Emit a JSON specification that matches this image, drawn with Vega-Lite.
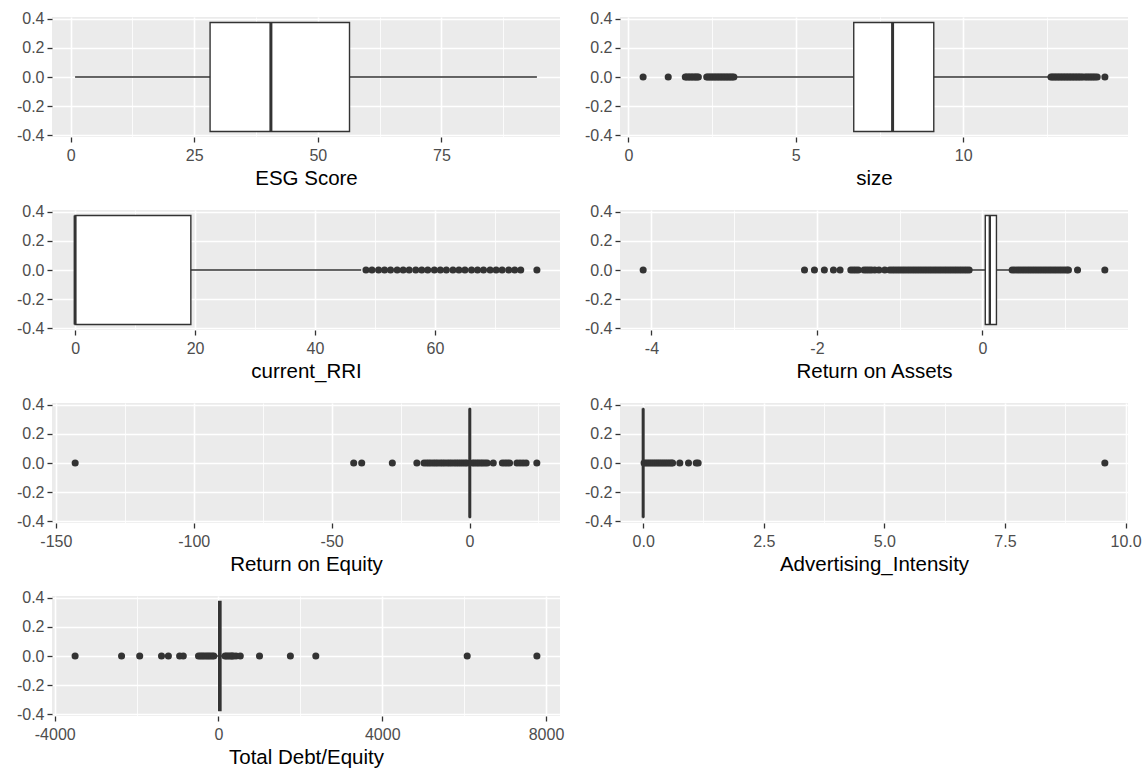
{
  "$schema": "https://vega.github.io/schema/vega-lite/v6.json",
  "padding": {"left": 16, "top": 10, "right": 5, "bottom": 5},
  "background": "#FFFFFF",
  "columns": 2,
  "bounds": "flush",
  "spacing": {"row": 73, "column": 60},
  "datasets": {
    "box": [
      {"variable": "ESG Score", "lower": 0.9, "q1": 28.2, "median": 40.5, "q3": 56.4, "upper": 94.3},
      {"variable": "size", "lower": 3.17, "q1": 6.73, "median": 7.89, "q3": 9.12, "upper": 12.58},
      {"variable": "current_RRI", "lower": 0, "q1": 0, "median": 0, "q3": 19.3, "upper": 47.7},
      {"variable": "Return on Assets", "lower": -0.14, "q1": 0.035, "median": 0.09, "q3": 0.17, "upper": 0.35},
      {"variable": "Return on Equity", "lower": -0.5, "q1": 0, "median": 0.1, "q3": 0.25, "upper": 0.7},
      {"variable": "Advertising_Intensity", "lower": 0, "q1": 0, "median": 0, "q3": 0.005, "upper": 0.012},
      {"variable": "Total Debt/Equity", "lower": -80, "q1": 5, "median": 25, "q3": 60, "upper": 140}
    ],
    "out": [
      {"variable": "size", "value": 0.44}, {"variable": "size", "value": 1.19},
      {"variable": "size", "value": 1.70}, {"variable": "size", "value": 1.74}, {"variable": "size", "value": 1.79}, {"variable": "size", "value": 1.83},
      {"variable": "size", "value": 1.88}, {"variable": "size", "value": 1.92}, {"variable": "size", "value": 1.97}, {"variable": "size", "value": 2.01},
      {"variable": "size", "value": 2.05}, {"variable": "size", "value": 2.09},
      {"variable": "size", "value": 2.34}, {"variable": "size", "value": 2.38}, {"variable": "size", "value": 2.43}, {"variable": "size", "value": 2.47},
      {"variable": "size", "value": 2.52}, {"variable": "size", "value": 2.56}, {"variable": "size", "value": 2.61}, {"variable": "size", "value": 2.65},
      {"variable": "size", "value": 2.70}, {"variable": "size", "value": 2.74}, {"variable": "size", "value": 2.79}, {"variable": "size", "value": 2.83},
      {"variable": "size", "value": 2.88}, {"variable": "size", "value": 2.92}, {"variable": "size", "value": 2.97}, {"variable": "size", "value": 3.01},
      {"variable": "size", "value": 3.06}, {"variable": "size", "value": 3.10}, {"variable": "size", "value": 3.15},
      {"variable": "size", "value": 12.62}, {"variable": "size", "value": 12.66}, {"variable": "size", "value": 12.71}, {"variable": "size", "value": 12.75},
      {"variable": "size", "value": 12.80}, {"variable": "size", "value": 12.84}, {"variable": "size", "value": 12.89}, {"variable": "size", "value": 12.93},
      {"variable": "size", "value": 12.98}, {"variable": "size", "value": 13.02}, {"variable": "size", "value": 13.07}, {"variable": "size", "value": 13.11},
      {"variable": "size", "value": 13.16}, {"variable": "size", "value": 13.20}, {"variable": "size", "value": 13.25}, {"variable": "size", "value": 13.29},
      {"variable": "size", "value": 13.34}, {"variable": "size", "value": 13.38}, {"variable": "size", "value": 13.43}, {"variable": "size", "value": 13.47},
      {"variable": "size", "value": 13.52}, {"variable": "size", "value": 13.57}, {"variable": "size", "value": 13.64}, {"variable": "size", "value": 13.69},
      {"variable": "size", "value": 13.74}, {"variable": "size", "value": 13.79}, {"variable": "size", "value": 13.84}, {"variable": "size", "value": 13.89},
      {"variable": "size", "value": 13.94}, {"variable": "size", "value": 14.00}, {"variable": "size", "value": 14.23},

      {"variable": "current_RRI", "value": 48.5}, {"variable": "current_RRI", "value": 49.5}, {"variable": "current_RRI", "value": 50.6},
      {"variable": "current_RRI", "value": 51.6}, {"variable": "current_RRI", "value": 52.6}, {"variable": "current_RRI", "value": 53.7},
      {"variable": "current_RRI", "value": 54.7}, {"variable": "current_RRI", "value": 55.7}, {"variable": "current_RRI", "value": 56.8},
      {"variable": "current_RRI", "value": 57.8}, {"variable": "current_RRI", "value": 58.8}, {"variable": "current_RRI", "value": 59.9},
      {"variable": "current_RRI", "value": 60.9}, {"variable": "current_RRI", "value": 61.9}, {"variable": "current_RRI", "value": 63.0},
      {"variable": "current_RRI", "value": 64.0}, {"variable": "current_RRI", "value": 65.0}, {"variable": "current_RRI", "value": 66.1},
      {"variable": "current_RRI", "value": 67.1}, {"variable": "current_RRI", "value": 68.1}, {"variable": "current_RRI", "value": 69.2},
      {"variable": "current_RRI", "value": 70.2}, {"variable": "current_RRI", "value": 71.2}, {"variable": "current_RRI", "value": 72.3},
      {"variable": "current_RRI", "value": 73.3}, {"variable": "current_RRI", "value": 74.3}, {"variable": "current_RRI", "value": 77.0},

      {"variable": "Return on Assets", "value": -4.10}, {"variable": "Return on Assets", "value": -2.15}, {"variable": "Return on Assets", "value": -2.03},
      {"variable": "Return on Assets", "value": -1.91}, {"variable": "Return on Assets", "value": -1.80}, {"variable": "Return on Assets", "value": -1.72},
      {"variable": "Return on Assets", "value": -1.59}, {"variable": "Return on Assets", "value": -1.56}, {"variable": "Return on Assets", "value": -1.53},
      {"variable": "Return on Assets", "value": -1.50}, {"variable": "Return on Assets", "value": -1.43}, {"variable": "Return on Assets", "value": -1.40},
      {"variable": "Return on Assets", "value": -1.37}, {"variable": "Return on Assets", "value": -1.34}, {"variable": "Return on Assets", "value": -1.30},
      {"variable": "Return on Assets", "value": -1.25}, {"variable": "Return on Assets", "value": -1.18}, {"variable": "Return on Assets", "value": -1.12},
      {"variable": "Return on Assets", "value": -1.09}, {"variable": "Return on Assets", "value": -1.06}, {"variable": "Return on Assets", "value": -1.03},
      {"variable": "Return on Assets", "value": -1.00}, {"variable": "Return on Assets", "value": -0.97}, {"variable": "Return on Assets", "value": -0.94},
      {"variable": "Return on Assets", "value": -0.91}, {"variable": "Return on Assets", "value": -0.88}, {"variable": "Return on Assets", "value": -0.85},
      {"variable": "Return on Assets", "value": -0.82}, {"variable": "Return on Assets", "value": -0.79}, {"variable": "Return on Assets", "value": -0.76},
      {"variable": "Return on Assets", "value": -0.73}, {"variable": "Return on Assets", "value": -0.70}, {"variable": "Return on Assets", "value": -0.67},
      {"variable": "Return on Assets", "value": -0.64}, {"variable": "Return on Assets", "value": -0.61}, {"variable": "Return on Assets", "value": -0.58},
      {"variable": "Return on Assets", "value": -0.55}, {"variable": "Return on Assets", "value": -0.52}, {"variable": "Return on Assets", "value": -0.49},
      {"variable": "Return on Assets", "value": -0.46}, {"variable": "Return on Assets", "value": -0.43}, {"variable": "Return on Assets", "value": -0.40},
      {"variable": "Return on Assets", "value": -0.37}, {"variable": "Return on Assets", "value": -0.34}, {"variable": "Return on Assets", "value": -0.31},
      {"variable": "Return on Assets", "value": -0.28}, {"variable": "Return on Assets", "value": -0.25}, {"variable": "Return on Assets", "value": -0.22},
      {"variable": "Return on Assets", "value": -0.19}, {"variable": "Return on Assets", "value": -0.16},
      {"variable": "Return on Assets", "value": 0.36}, {"variable": "Return on Assets", "value": 0.39}, {"variable": "Return on Assets", "value": 0.42},
      {"variable": "Return on Assets", "value": 0.45}, {"variable": "Return on Assets", "value": 0.48}, {"variable": "Return on Assets", "value": 0.51},
      {"variable": "Return on Assets", "value": 0.54}, {"variable": "Return on Assets", "value": 0.57}, {"variable": "Return on Assets", "value": 0.60},
      {"variable": "Return on Assets", "value": 0.63}, {"variable": "Return on Assets", "value": 0.66}, {"variable": "Return on Assets", "value": 0.69},
      {"variable": "Return on Assets", "value": 0.72}, {"variable": "Return on Assets", "value": 0.75}, {"variable": "Return on Assets", "value": 0.78},
      {"variable": "Return on Assets", "value": 0.81}, {"variable": "Return on Assets", "value": 0.84}, {"variable": "Return on Assets", "value": 0.87},
      {"variable": "Return on Assets", "value": 0.90}, {"variable": "Return on Assets", "value": 0.93}, {"variable": "Return on Assets", "value": 0.96},
      {"variable": "Return on Assets", "value": 0.99}, {"variable": "Return on Assets", "value": 1.02}, {"variable": "Return on Assets", "value": 1.04},
      {"variable": "Return on Assets", "value": 1.15}, {"variable": "Return on Assets", "value": 1.48},

      {"variable": "Return on Equity", "value": -143.0}, {"variable": "Return on Equity", "value": -42.0}, {"variable": "Return on Equity", "value": -39.1},
      {"variable": "Return on Equity", "value": -28.0}, {"variable": "Return on Equity", "value": -19.1}, {"variable": "Return on Equity", "value": -16.5},
      {"variable": "Return on Equity", "value": -15.6}, {"variable": "Return on Equity", "value": -14.8}, {"variable": "Return on Equity", "value": -14.0},
      {"variable": "Return on Equity", "value": -13.1}, {"variable": "Return on Equity", "value": -12.3}, {"variable": "Return on Equity", "value": -11.5},
      {"variable": "Return on Equity", "value": -10.6}, {"variable": "Return on Equity", "value": -9.8}, {"variable": "Return on Equity", "value": -9.0},
      {"variable": "Return on Equity", "value": -8.1}, {"variable": "Return on Equity", "value": -7.3}, {"variable": "Return on Equity", "value": -6.5},
      {"variable": "Return on Equity", "value": -5.6}, {"variable": "Return on Equity", "value": -4.8}, {"variable": "Return on Equity", "value": -4.0},
      {"variable": "Return on Equity", "value": -3.2}, {"variable": "Return on Equity", "value": -2.4}, {"variable": "Return on Equity", "value": -1.6},
      {"variable": "Return on Equity", "value": -0.9}, {"variable": "Return on Equity", "value": 1.1}, {"variable": "Return on Equity", "value": 1.8},
      {"variable": "Return on Equity", "value": 2.6}, {"variable": "Return on Equity", "value": 3.3}, {"variable": "Return on Equity", "value": 4.1},
      {"variable": "Return on Equity", "value": 4.8}, {"variable": "Return on Equity", "value": 5.6}, {"variable": "Return on Equity", "value": 6.4},
      {"variable": "Return on Equity", "value": 8.6}, {"variable": "Return on Equity", "value": 11.9}, {"variable": "Return on Equity", "value": 12.8},
      {"variable": "Return on Equity", "value": 13.6}, {"variable": "Return on Equity", "value": 14.5}, {"variable": "Return on Equity", "value": 17.2},
      {"variable": "Return on Equity", "value": 18.3}, {"variable": "Return on Equity", "value": 19.4}, {"variable": "Return on Equity", "value": 20.5},
      {"variable": "Return on Equity", "value": 24.4},

      {"variable": "Advertising_Intensity", "value": 0.02}, {"variable": "Advertising_Intensity", "value": 0.06}, {"variable": "Advertising_Intensity", "value": 0.10},
      {"variable": "Advertising_Intensity", "value": 0.14}, {"variable": "Advertising_Intensity", "value": 0.18}, {"variable": "Advertising_Intensity", "value": 0.22},
      {"variable": "Advertising_Intensity", "value": 0.26}, {"variable": "Advertising_Intensity", "value": 0.30}, {"variable": "Advertising_Intensity", "value": 0.34},
      {"variable": "Advertising_Intensity", "value": 0.38}, {"variable": "Advertising_Intensity", "value": 0.42}, {"variable": "Advertising_Intensity", "value": 0.46},
      {"variable": "Advertising_Intensity", "value": 0.50}, {"variable": "Advertising_Intensity", "value": 0.54}, {"variable": "Advertising_Intensity", "value": 0.58},
      {"variable": "Advertising_Intensity", "value": 0.61}, {"variable": "Advertising_Intensity", "value": 0.76}, {"variable": "Advertising_Intensity", "value": 0.94},
      {"variable": "Advertising_Intensity", "value": 1.10}, {"variable": "Advertising_Intensity", "value": 1.14}, {"variable": "Advertising_Intensity", "value": 9.57},

      {"variable": "Total Debt/Equity", "value": -3503}, {"variable": "Total Debt/Equity", "value": -2368}, {"variable": "Total Debt/Equity", "value": -1925},
      {"variable": "Total Debt/Equity", "value": -1392}, {"variable": "Total Debt/Equity", "value": -1224}, {"variable": "Total Debt/Equity", "value": -949},
      {"variable": "Total Debt/Equity", "value": -860}, {"variable": "Total Debt/Equity", "value": -488}, {"variable": "Total Debt/Equity", "value": -440},
      {"variable": "Total Debt/Equity", "value": -395}, {"variable": "Total Debt/Equity", "value": -350}, {"variable": "Total Debt/Equity", "value": -300},
      {"variable": "Total Debt/Equity", "value": -255}, {"variable": "Total Debt/Equity", "value": -210}, {"variable": "Total Debt/Equity", "value": -160},
      {"variable": "Total Debt/Equity", "value": -115}, {"variable": "Total Debt/Equity", "value": 160}, {"variable": "Total Debt/Equity", "value": 200},
      {"variable": "Total Debt/Equity", "value": 245}, {"variable": "Total Debt/Equity", "value": 290}, {"variable": "Total Debt/Equity", "value": 330},
      {"variable": "Total Debt/Equity", "value": 355}, {"variable": "Total Debt/Equity", "value": 426}, {"variable": "Total Debt/Equity", "value": 532},
      {"variable": "Total Debt/Equity", "value": 1002}, {"variable": "Total Debt/Equity", "value": 1756}, {"variable": "Total Debt/Equity", "value": 2377},
      {"variable": "Total Debt/Equity", "value": 6075}, {"variable": "Total Debt/Equity", "value": 7778}
    ]
  },
  "concat": [
    {
      "width": 508, "height": 120,
      "data": {"name": "box"},
      "transform": [{"filter": "datum.variable === 'ESG Score'"}],
      "layer": [
        {"mark": {"type": "rule", "color": "#333333", "strokeWidth": 1.4},
         "encoding": {
           "x": {"field": "lower", "type": "quantitative", "title": "ESG Score",
                 "scale": {"domain": [-3.77, 98.97], "nice": false, "zero": false},
                 "axis": {"values": [0, 12.5, 25, 37.5, 50, 62.5, 75, 87.5],
                          "labelExpr": "datum.value % 25 === 0 ? '' + datum.value : ''",
                          "tickOpacity": {"condition": {"test": "datum.value % 25 !== 0", "value": 0}, "value": 1},
                          "gridWidth": {"condition": {"test": "datum.value % 25 !== 0", "value": 0.8}, "value": 1.6}}},
           "x2": {"field": "upper"},
           "y": {"datum": 0, "type": "quantitative", "title": null,
                 "scale": {"domain": [-0.4125, 0.4125], "nice": false, "zero": false}}
         }},
        {"mark": {"type": "rect", "fill": "#FFFFFF", "stroke": "#333333", "strokeWidth": 1.4},
         "encoding": {"x": {"field": "q1", "type": "quantitative", "title": "ESG Score"}, "x2": {"field": "q3"},
                      "y": {"datum": -0.375, "type": "quantitative", "title": null}, "y2": {"datum": 0.375}}},
        {"mark": {"type": "rule", "color": "#333333", "strokeWidth": 3},
         "encoding": {"x": {"field": "median", "type": "quantitative", "title": "ESG Score"},
                      "y": {"datum": -0.375, "type": "quantitative", "title": null}, "y2": {"datum": 0.375}}}
      ]
    },
    {
      "width": 508, "height": 120,
      "data": {"name": "box"},
      "transform": [{"filter": "datum.variable === 'size'"}],
      "layer": [
        {"mark": {"type": "rule", "color": "#333333", "strokeWidth": 1.4},
         "encoding": {
           "x": {"field": "lower", "type": "quantitative", "title": "size",
                 "scale": {"domain": [-0.25, 14.92], "nice": false, "zero": false},
                 "axis": {"values": [0, 2.5, 5, 7.5, 10, 12.5],
                          "labelExpr": "datum.value % 5 === 0 ? '' + datum.value : ''",
                          "tickOpacity": {"condition": {"test": "datum.value % 5 !== 0", "value": 0}, "value": 1},
                          "gridWidth": {"condition": {"test": "datum.value % 5 !== 0", "value": 0.8}, "value": 1.6}}},
           "x2": {"field": "upper"},
           "y": {"datum": 0, "type": "quantitative", "title": null,
                 "scale": {"domain": [-0.4125, 0.4125], "nice": false, "zero": false}}
         }},
        {"mark": {"type": "rect", "fill": "#FFFFFF", "stroke": "#333333", "strokeWidth": 1.4},
         "encoding": {"x": {"field": "q1", "type": "quantitative", "title": "size"}, "x2": {"field": "q3"},
                      "y": {"datum": -0.375, "type": "quantitative", "title": null}, "y2": {"datum": 0.375}}},
        {"mark": {"type": "rule", "color": "#333333", "strokeWidth": 3},
         "encoding": {"x": {"field": "median", "type": "quantitative", "title": "size"},
                      "y": {"datum": -0.375, "type": "quantitative", "title": null}, "y2": {"datum": 0.375}}},
        {"data": {"name": "out"}, "transform": [{"filter": "datum.variable === 'size'"}],
         "mark": {"type": "circle", "color": "#333333", "size": 50, "opacity": 1},
         "encoding": {"x": {"field": "value", "type": "quantitative", "title": "size"},
                      "y": {"datum": 0, "type": "quantitative", "title": null}}}
      ]
    },
    {
      "width": 508, "height": 120,
      "data": {"name": "box"},
      "transform": [{"filter": "datum.variable === 'current_RRI'"}],
      "layer": [
        {"mark": {"type": "rule", "color": "#333333", "strokeWidth": 1.4},
         "encoding": {
           "x": {"field": "lower", "type": "quantitative", "title": "current_RRI",
                 "scale": {"domain": [-3.85, 80.85], "nice": false, "zero": false},
                 "axis": {"values": [0, 10, 20, 30, 40, 50, 60, 70],
                          "labelExpr": "datum.value % 20 === 0 ? '' + datum.value : ''",
                          "tickOpacity": {"condition": {"test": "datum.value % 20 !== 0", "value": 0}, "value": 1},
                          "gridWidth": {"condition": {"test": "datum.value % 20 !== 0", "value": 0.8}, "value": 1.6}}},
           "x2": {"field": "upper"},
           "y": {"datum": 0, "type": "quantitative", "title": null,
                 "scale": {"domain": [-0.4125, 0.4125], "nice": false, "zero": false}}
         }},
        {"mark": {"type": "rect", "fill": "#FFFFFF", "stroke": "#333333", "strokeWidth": 1.4},
         "encoding": {"x": {"field": "q1", "type": "quantitative", "title": "current_RRI"}, "x2": {"field": "q3"},
                      "y": {"datum": -0.375, "type": "quantitative", "title": null}, "y2": {"datum": 0.375}}},
        {"mark": {"type": "rule", "color": "#333333", "strokeWidth": 3},
         "encoding": {"x": {"field": "median", "type": "quantitative", "title": "current_RRI"},
                      "y": {"datum": -0.375, "type": "quantitative", "title": null}, "y2": {"datum": 0.375}}},
        {"data": {"name": "out"}, "transform": [{"filter": "datum.variable === 'current_RRI'"}],
         "mark": {"type": "circle", "color": "#333333", "size": 50, "opacity": 1},
         "encoding": {"x": {"field": "value", "type": "quantitative", "title": "current_RRI"},
                      "y": {"datum": 0, "type": "quantitative", "title": null}}}
      ]
    },
    {
      "width": 508, "height": 120,
      "data": {"name": "box"},
      "transform": [{"filter": "datum.variable === 'Return on Assets'"}],
      "layer": [
        {"mark": {"type": "rule", "color": "#333333", "strokeWidth": 1.4},
         "encoding": {
           "x": {"field": "lower", "type": "quantitative", "title": "Return on Assets",
                 "scale": {"domain": [-4.38, 1.76], "nice": false, "zero": false},
                 "axis": {"values": [-4, -3, -2, -1, 0, 1],
                          "labelExpr": "datum.value % 2 === 0 ? '' + datum.value : ''",
                          "tickOpacity": {"condition": {"test": "datum.value % 2 !== 0", "value": 0}, "value": 1},
                          "gridWidth": {"condition": {"test": "datum.value % 2 !== 0", "value": 0.8}, "value": 1.6}}},
           "x2": {"field": "upper"},
           "y": {"datum": 0, "type": "quantitative", "title": null,
                 "scale": {"domain": [-0.4125, 0.4125], "nice": false, "zero": false}}
         }},
        {"data": {"name": "out"}, "transform": [{"filter": "datum.variable === 'Return on Assets'"}],
         "mark": {"type": "circle", "color": "#333333", "size": 50, "opacity": 1},
         "encoding": {"x": {"field": "value", "type": "quantitative", "title": "Return on Assets"},
                      "y": {"datum": 0, "type": "quantitative", "title": null}}},
        {"mark": {"type": "rect", "fill": "#FFFFFF", "stroke": "#333333", "strokeWidth": 1.4},
         "encoding": {"x": {"field": "q1", "type": "quantitative", "title": "Return on Assets"}, "x2": {"field": "q3"},
                      "y": {"datum": -0.375, "type": "quantitative", "title": null}, "y2": {"datum": 0.375}}},
        {"mark": {"type": "rule", "color": "#333333", "strokeWidth": 2.4},
         "encoding": {"x": {"field": "median", "type": "quantitative", "title": "Return on Assets"},
                      "y": {"datum": -0.375, "type": "quantitative", "title": null}, "y2": {"datum": 0.375}}}
      ]
    },
    {
      "width": 508, "height": 120,
      "data": {"name": "box"},
      "transform": [{"filter": "datum.variable === 'Return on Equity'"}],
      "layer": [
        {"mark": {"type": "rule", "color": "#333333", "strokeWidth": 1.4},
         "encoding": {
           "x": {"field": "lower", "type": "quantitative", "title": "Return on Equity",
                 "scale": {"domain": [-151.4, 32.8], "nice": false, "zero": false},
                 "axis": {"values": [-150, -125, -100, -75, -50, -25, 0, 25],
                          "labelExpr": "datum.value % 50 === 0 ? '' + datum.value : ''",
                          "tickOpacity": {"condition": {"test": "datum.value % 50 !== 0", "value": 0}, "value": 1},
                          "gridWidth": {"condition": {"test": "datum.value % 50 !== 0", "value": 0.8}, "value": 1.6}}},
           "x2": {"field": "upper"},
           "y": {"datum": 0, "type": "quantitative", "title": null,
                 "scale": {"domain": [-0.4125, 0.4125], "nice": false, "zero": false}}
         }},
        {"data": {"name": "out"}, "transform": [{"filter": "datum.variable === 'Return on Equity'"}],
         "mark": {"type": "circle", "color": "#333333", "size": 50, "opacity": 1},
         "encoding": {"x": {"field": "value", "type": "quantitative", "title": "Return on Equity"},
                      "y": {"datum": 0, "type": "quantitative", "title": null}}},
        {"mark": {"type": "rect", "fill": "#FFFFFF", "stroke": "#333333", "strokeWidth": 1.4},
         "encoding": {"x": {"field": "q1", "type": "quantitative", "title": "Return on Equity"}, "x2": {"field": "q3"},
                      "y": {"datum": -0.375, "type": "quantitative", "title": null}, "y2": {"datum": 0.375}}},
        {"mark": {"type": "rule", "color": "#333333", "strokeWidth": 3},
         "encoding": {"x": {"field": "median", "type": "quantitative", "title": "Return on Equity"},
                      "y": {"datum": -0.375, "type": "quantitative", "title": null}, "y2": {"datum": 0.375}}}
      ]
    },
    {
      "width": 508, "height": 120,
      "data": {"name": "box"},
      "transform": [{"filter": "datum.variable === 'Advertising_Intensity'"}],
      "layer": [
        {"mark": {"type": "rule", "color": "#333333", "strokeWidth": 1.4},
         "encoding": {
           "x": {"field": "lower", "type": "quantitative", "title": "Advertising_Intensity",
                 "scale": {"domain": [-0.48, 10.05], "nice": false, "zero": false},
                 "axis": {"values": [0, 1.25, 2.5, 3.75, 5, 6.25, 7.5, 8.75, 10],
                          "labelExpr": "datum.value % 2.5 === 0 ? format(datum.value, '.1f') : ''",
                          "tickOpacity": {"condition": {"test": "datum.value % 2.5 !== 0", "value": 0}, "value": 1},
                          "gridWidth": {"condition": {"test": "datum.value % 2.5 !== 0", "value": 0.8}, "value": 1.6}}},
           "x2": {"field": "upper"},
           "y": {"datum": 0, "type": "quantitative", "title": null,
                 "scale": {"domain": [-0.4125, 0.4125], "nice": false, "zero": false}}
         }},
        {"data": {"name": "out"}, "transform": [{"filter": "datum.variable === 'Advertising_Intensity'"}],
         "mark": {"type": "circle", "color": "#333333", "size": 50, "opacity": 1},
         "encoding": {"x": {"field": "value", "type": "quantitative", "title": "Advertising_Intensity"},
                      "y": {"datum": 0, "type": "quantitative", "title": null}}},
        {"mark": {"type": "rect", "fill": "#FFFFFF", "stroke": "#333333", "strokeWidth": 1.4},
         "encoding": {"x": {"field": "q1", "type": "quantitative", "title": "Advertising_Intensity"}, "x2": {"field": "q3"},
                      "y": {"datum": -0.375, "type": "quantitative", "title": null}, "y2": {"datum": 0.375}}},
        {"mark": {"type": "rule", "color": "#333333", "strokeWidth": 3},
         "encoding": {"x": {"field": "median", "type": "quantitative", "title": "Advertising_Intensity"},
                      "y": {"datum": -0.375, "type": "quantitative", "title": null}, "y2": {"datum": 0.375}}}
      ]
    },
    {
      "width": 508, "height": 120,
      "data": {"name": "box"},
      "transform": [{"filter": "datum.variable === 'Total Debt/Equity'"}],
      "layer": [
        {"mark": {"type": "rule", "color": "#333333", "strokeWidth": 1.4},
         "encoding": {
           "x": {"field": "lower", "type": "quantitative", "title": "Total Debt/Equity",
                 "scale": {"domain": [-4067, 8342], "nice": false, "zero": false},
                 "axis": {"values": [-4000, -2000, 0, 2000, 4000, 6000, 8000],
                          "labelExpr": "datum.value % 4000 === 0 ? '' + datum.value : ''",
                          "tickOpacity": {"condition": {"test": "datum.value % 4000 !== 0", "value": 0}, "value": 1},
                          "gridWidth": {"condition": {"test": "datum.value % 4000 !== 0", "value": 0.8}, "value": 1.6}}},
           "x2": {"field": "upper"},
           "y": {"datum": 0, "type": "quantitative", "title": null,
                 "scale": {"domain": [-0.4125, 0.4125], "nice": false, "zero": false}}
         }},
        {"data": {"name": "out"}, "transform": [{"filter": "datum.variable === 'Total Debt/Equity'"}],
         "mark": {"type": "circle", "color": "#333333", "size": 50, "opacity": 1},
         "encoding": {"x": {"field": "value", "type": "quantitative", "title": "Total Debt/Equity"},
                      "y": {"datum": 0, "type": "quantitative", "title": null}}},
        {"mark": {"type": "rect", "fill": "#FFFFFF", "stroke": "#333333", "strokeWidth": 1.4},
         "encoding": {"x": {"field": "q1", "type": "quantitative", "title": "Total Debt/Equity"}, "x2": {"field": "q3"},
                      "y": {"datum": -0.375, "type": "quantitative", "title": null}, "y2": {"datum": 0.375}}},
        {"mark": {"type": "rule", "color": "#333333", "strokeWidth": 3},
         "encoding": {"x": {"field": "median", "type": "quantitative", "title": "Total Debt/Equity"},
                      "y": {"datum": -0.375, "type": "quantitative", "title": null}, "y2": {"datum": 0.375}}}
      ]
    }
  ],
  "config": {
    "font": "Liberation Sans",
    "view": {"fill": "#EBEBEB", "stroke": null},
    "axis": {
      "domain": false,
      "grid": true,
      "gridColor": "#FFFFFF",
      "gridOpacity": 1,
      "tickColor": "#333333",
      "tickSize": 5,
      "tickWidth": 1.3,
      "labelColor": "#4D4D4D",
      "labelFont": "Liberation Sans",
      "labelFontSize": 16,
      "labelPadding": 5,
      "labelFlush": false,
      "labelOverlap": false,
      "titleFont": "Liberation Sans",
      "titleFontSize": 20.5,
      "titleFontWeight": "normal",
      "titleColor": "#000000",
      "titlePadding": 5
    },
    "axisY": {
      "grid": true,
      "labelOverlap": false,
      "labelPadding": 3,
      "values": [-0.4, -0.3, -0.2, -0.1, 0, 0.1, 0.2, 0.3, 0.4],
      "labelExpr": "round(datum.value*10) % 2 === 0 ? replace(format(datum.value, '.1f'), '\u2212', '-') : ''",
      "tickOpacity": {"condition": {"test": "round(datum.value*10) % 2 !== 0", "value": 0}, "value": 1},
      "gridWidth": {"condition": {"test": "round(datum.value*10) % 2 !== 0", "value": 0.8}, "value": 1.6}
    }
  }
}
